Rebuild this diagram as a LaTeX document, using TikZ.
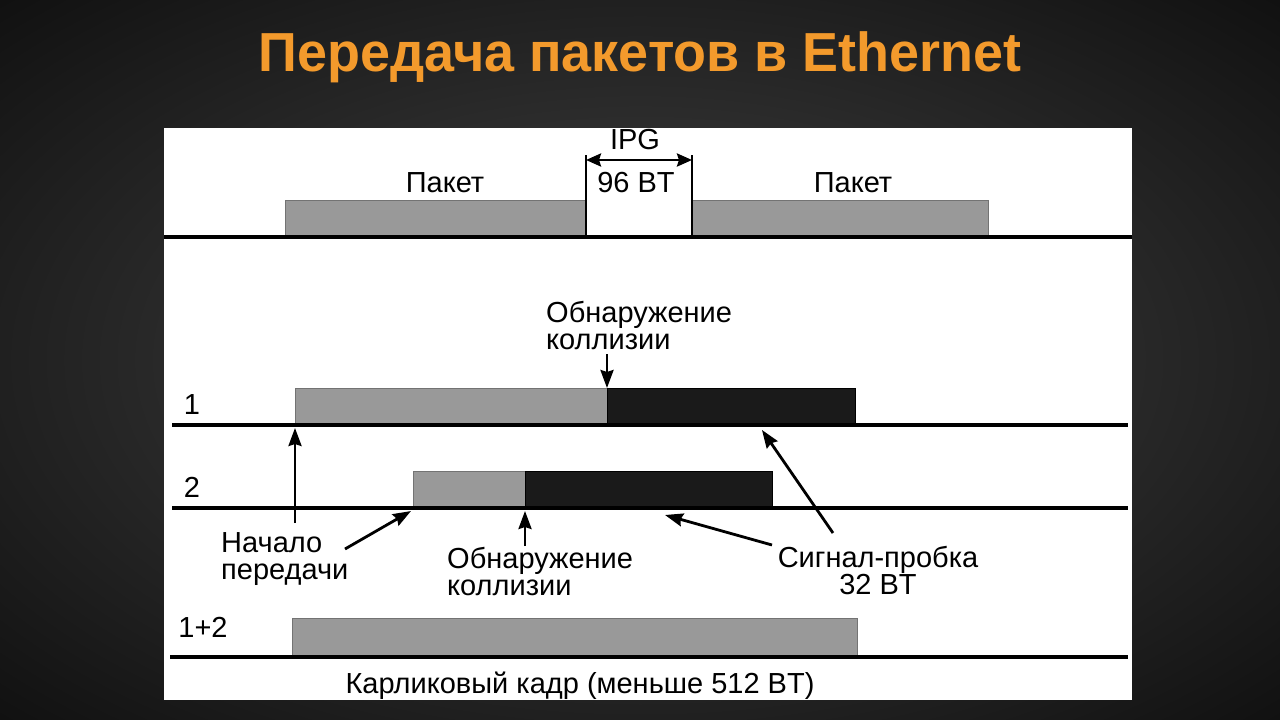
\documentclass[tikz,border=0pt]{standalone}
\usepackage{fontspec}
\setmainfont{Liberation Sans}
\usetikzlibrary{arrows.meta}
\definecolor{titleorange}{HTML}{F39A2C}
\definecolor{pktgray}{HTML}{999999}
\definecolor{jamblack}{HTML}{1A1A1A}
\definecolor{bgA}{HTML}{434343}
\definecolor{bgB}{HTML}{2A2A2A}
\definecolor{bgC}{HTML}{101010}
\definecolor{bgD}{HTML}{040404}
\pgfdeclareradialshading{vignette}{\pgfpoint{0bp}{0bp}}{color(0bp)=(bgA); color(18bp)=(bgB); color(36bp)=(bgC); color(48bp)=(bgD); color(75bp)=(bgD)}
\begin{document}
\begin{tikzpicture}[x=1pt,y=-1pt,
  lbl/.style={inner sep=0pt,font=\fontsize{29}{27}\selectfont},
  graybox/.style={draw=black!55,line width=0.8pt,fill=pktgray,anchor=north west,inner sep=0pt,outer sep=0pt},
  blackbox/.style={draw=black,line width=0.8pt,fill=jamblack,anchor=north west,inner sep=0pt,outer sep=0pt},
  baseline/.style={line width=4pt,black},
  arr/.style={line width=2.8pt,-{Stealth[inset=2pt,length=18pt,width=13pt]}},
  dblarr/.style={line width=2.8pt,{Stealth[inset=2pt,length=15pt,width=13pt]}-{Stealth[inset=2pt,length=15pt,width=13pt]}},
  tick/.style={line width=2pt}]
\useasboundingbox (0,0) rectangle (1280,720);
% background
\shade[shading=vignette] (0,0) rectangle (1280,720);
% title
\node (title) [text=titleorange,font=\fontsize{55}{60}\selectfont\bfseries,xscale=0.98] at (640,57) {Передача пакетов в Ethernet};
% white panel
\fill[white] (164,128) rectangle (1132,700);

% ---- top row: packets and IPG
\node (p1) [graybox,minimum width=301pt,minimum height=36pt] at (285,200) {};
\node (p2) [graybox,minimum width=296pt,minimum height=36pt] at (692,200) {};
\draw[baseline] (164,237) -- (1132,237);
\coordinate (t1) at (586,155);
\coordinate (t2) at (692,155);
\draw[tick] (t1) -- (p1.south east);
\draw[tick] (t2) -- (p2.south west);
\draw[dblarr] ([yshift=-5pt]t1) -- ([yshift=-5pt]t2);
\node (ipg) [lbl] at (635,140) {IPG};
\node (bt96) [lbl] at (636,183) {96 BT};
\node (pk1) [lbl] at (445,183) {Пакет};
\node (pk2) [lbl] at (853,183) {Пакет};

% ---- row 1
\node (g1) [graybox,minimum width=312pt,minimum height=37pt] at (295,388) {};
\node (b1) [blackbox,minimum width=248pt,minimum height=37pt] at (607,388) {};
\draw[baseline] (172,425) -- (1128,425);
\node (r1) [lbl] at (192,405) {1};
\node (det1) [lbl,align=left,anchor=west] at (546,326) {Обнаружение\\коллизии};
\coordinate (det1s) at (607,354);
\draw[arr] (det1s) -- (b1.north west);

% ---- row 2
\node (g2) [graybox,minimum width=112pt,minimum height=37pt] at (413,471) {};
\node (b2) [blackbox,minimum width=247pt,minimum height=37pt] at (525,471) {};
\draw[baseline] (172,508) -- (1128,508);
\node (r2) [lbl] at (192,487) {2};

% ---- annotations
\node (start) [lbl,align=left,anchor=west] at (221,559) {Начало\\передачи};
\node (det2) [lbl,align=left,anchor=west] at (447,572) {Обнаружение\\коллизии};
\node (jam) [lbl,align=center] at (878,571) {Сигнал-пробка\\32 BT};
\coordinate (s1) at (295,523);
\coordinate (s1e) at (295,428);
\coordinate (s2) at (345,549);
\coordinate (s2e) at (411,511);
\coordinate (d2) at (525,546);
\coordinate (d2e) at (525,511);
\coordinate (j2) at (772,545);
\coordinate (j2e) at (665,515);
\coordinate (j1) at (833,533);
\coordinate (j1e) at (762,430);
\draw[arr] (s1) -- (s1e);
\draw[arr] (s2) -- (s2e);
\draw[arr] (d2) -- (d2e);
\draw[arr] (j2) -- (j2e);
\draw[arr] (j1) -- (j1e);

% ---- row 1+2
\node (g3) [graybox,minimum width=565pt,minimum height=39pt] at (292,618) {};
\draw[baseline] (170,657) -- (1128,657);
\node (r3) [lbl] at (203,627) {1+2};
\node (runt) [lbl] at (580,686) {Карликовый кадр (меньше 512 BT)};
\end{tikzpicture}
\end{document}
